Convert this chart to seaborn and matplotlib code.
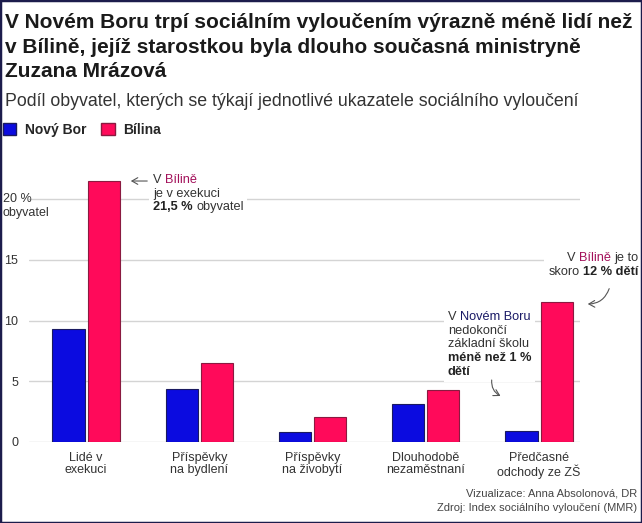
import matplotlib
matplotlib.use("Agg")
import matplotlib.pyplot as plt
import matplotlib.transforms as mtransforms
import seaborn as sns
import pandas as pd
from matplotlib.patches import Patch, Rectangle
from matplotlib.offsetbox import TextArea, HPacker, VPacker, AnnotationBbox

# data
categories = ["Lidé v\nexekuci", "Příspěvky\nna bydlení", "Příspěvky\nna živobytí",
              "Dlouhodobě\nnezaměstnaní", "Předčasné\nodchody ze ZŠ"]
towns = ["Nový Bor", "Bílina"]
novy_bor = [9.3, 4.4, 0.8, 3.1, 0.9]
bilina = [21.5, 6.5, 2.05, 4.3, 11.5]
y_ticks = [0, 5, 10, 15, 20]
y_labels = ["0", "5", "10", "15", ""]

df = pd.DataFrame({
    "kategorie": categories * 2,
    "obec": [towns[0]] * len(novy_bor) + [towns[1]] * len(bilina),
    "podil": novy_bor + bilina,
})

BLUE, PINK = "#0b0be0", "#ff0a5a"
BLUE_EDGE, PINK_EDGE = "#1a1a60", "#8a1a40"
TXT = "#333333"
MAGENTA = "#a3105a"
NAVY = "#1a1a66"

sns.set_theme(style="white")
plt.rcParams["font.family"] = ["Liberation Sans", "DejaVu Sans"]

W, H = 642, 523
fig = plt.figure(figsize=(W / 100, H / 100), dpi=100)
ax = fig.add_axes([29.4 / W, 81 / H, 550.4 / W, 267.3 / H])

sns.barplot(data=df, x="kategorie", y="podil", hue="obec", hue_order=towns,
            palette={towns[0]: BLUE, towns[1]: PINK}, saturation=1,
            width=0.62, gap=0.085, legend=False, linewidth=0.8, ax=ax)
for cont, ec in zip(ax.containers, [BLUE_EDGE, PINK_EDGE]):
    for bar in cont:
        bar.set_edgecolor(ec)

ax.set_xlim(-0.5, 4.36)
ax.set_ylim(0, 22)
ax.set_yticks(y_ticks)
ax.set_yticklabels(y_labels)
ax.grid(axis="y", color="#d4d4d4", lw=1)
ax.set_axisbelow(True)
sns.despine(ax=ax, left=True, bottom=True)
ax.tick_params(axis="both", length=0, labelsize=9, labelcolor=TXT)
ax.tick_params(axis="y", pad=8)
ax.tick_params(axis="x", pad=7)
for lab in ax.get_xticklabels():
    lab.set_linespacing(1.05)
ax.set_xlabel("")
ax.set_ylabel("")

# "20 % obyvatel" label
trans = mtransforms.blended_transform_factory(fig.transFigure, ax.transData)
ax.text(3 / W, 20, "20 %", transform=trans, va="center", ha="left", fontsize=9, color=TXT)
ax.annotate("obyvatel", xy=(3 / W, 20), xycoords=trans, xytext=(0, -10.3),
            textcoords="offset points", va="center", ha="left", fontsize=9, color=TXT)


def rich_box(rows, xy, align, box_alignment):
    lines = []
    for row in rows:
        parts = [TextArea(s, textprops=dict(color=c, fontweight=w, fontsize=9.2))
                 for s, c, w in row]
        lines.append(HPacker(children=parts, pad=0, sep=2.4, align="baseline"))
    vp = VPacker(children=lines, pad=0, sep=1.2, align=align)
    ab = AnnotationBbox(vp, xy, xycoords="data", box_alignment=box_alignment,
                        frameon=True, pad=0.25, annotation_clip=False,
                        bboxprops=dict(fc="white", ec="none"))
    ax.add_artist(ab)


rich_box([[("V", TXT, "normal"), ("Bílině", MAGENTA, "normal")],
          [("je v exekuci", TXT, "normal")],
          [("21,5 %", "#222222", "bold"), ("obyvatel", TXT, "normal")]],
         (0.592, 22.06), "left", (0, 1))

rich_box([[("V", TXT, "normal"), ("Bílině", MAGENTA, "normal"), ("je to", TXT, "normal")],
          [("skoro", TXT, "normal"), ("12 % dětí", "#222222", "bold")]],
         (4.874, 15.6), "right", (1, 1))

rich_box([[("V", TXT, "normal"), ("Novém Boru", NAVY, "normal")],
          [("nedokončí", TXT, "normal")],
          [("základní školu", TXT, "normal")],
          [("méně než 1 %", "#222222", "bold")],
          [("dětí", "#222222", "bold")]],
         (3.196, 10.78), "left", (0, 1))

arrow = dict(arrowstyle="->,head_length=0.35,head_width=0.2", color="#555555", lw=0.8)
ax.annotate("", xy=(0.371, 21.48), xytext=(0.565, 21.48), arrowprops=arrow,
            annotation_clip=False)
ax.annotate("", xy=(4.406, 11.36), xytext=(4.627, 12.84),
            arrowprops=dict(arrow, connectionstyle="arc3,rad=-0.4"), annotation_clip=False)
ax.annotate("", xy=(3.682, 3.69), xytext=(3.585, 5.33),
            arrowprops=dict(arrow, connectionstyle="arc3,rad=0.4"), annotation_clip=False)

# titles
fig.text(5 / W, 1 - 13 / H,
         "V Novém Boru trpí sociálním vyloučením výrazně méně lidí než\n"
         "v Bílině, jejíž starostkou byla dlouho současná ministryně\n"
         "Zuzana Mrázová",
         ha="left", va="top", fontsize=15, fontweight="bold", color="#1a1a1a",
         linespacing=1.37)
fig.text(5 / W, 1 - 102 / H,
         "Podíl obyvatel, kterých se týkají jednotlivé ukazatele sociálního vyloučení",
         ha="left", va="center", fontsize=12.8, color=TXT)

handles = [Patch(facecolor=BLUE, edgecolor=BLUE_EDGE), Patch(facecolor=PINK, edgecolor=PINK_EDGE)]
fig.legend(handles, towns, loc="center left", bbox_to_anchor=(3 / W, 1 - 130 / H),
           ncol=2, frameon=False, handlelength=0.95, handleheight=0.95,
           handletextpad=0.6, columnspacing=1.1, borderpad=0, borderaxespad=0,
           prop={"weight": "bold", "size": 10})

fig.text(637 / W, 1 - 494 / H, "Vizualizace: Anna Absolonová, DR",
         ha="right", va="center", fontsize=8, color="#444444")
fig.text(637 / W, 1 - 508 / H, "Zdroj: Index sociálního vyloučení (MMR)",
         ha="right", va="center", fontsize=8, color="#444444")

fig.add_artist(Rectangle((0, 0), 1, 1, transform=fig.transFigure, fill=False,
                         ec="#1c1c4c", lw=2.5))

fig.savefig("out.png", dpi=100)
